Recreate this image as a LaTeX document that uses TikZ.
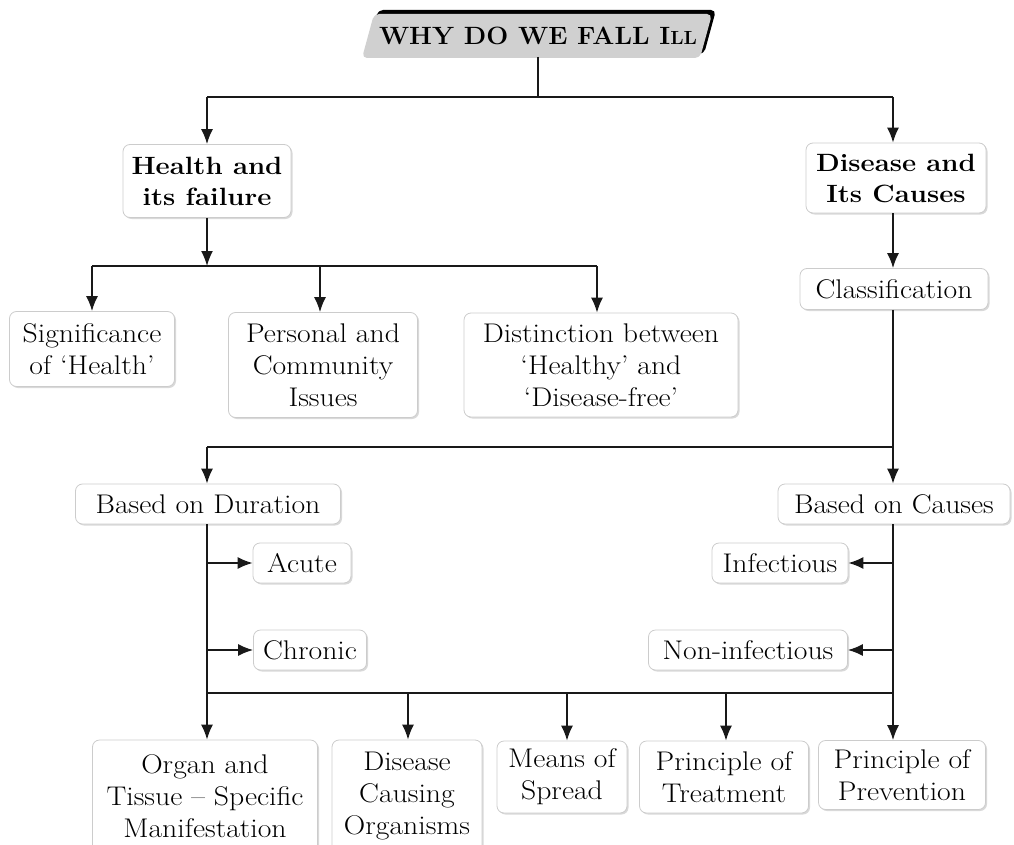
\documentclass[tikz,border=0pt]{standalone}
\usepackage{fontspec}
\setmainfont{Latin Modern Roman}[FakeStretch=1.1]
\newfontfamily\titlefont{Latin Modern Roman}[FakeStretch=1.04]
\usetikzlibrary{arrows.meta,shadows}
\definecolor{titlegray}{RGB}{208,208,208}
\tikzset{
  box/.style={draw=gray!40, line width=0.8pt, fill=white, rounded corners=7pt,
    align=center, inner sep=0pt, font=\fontsize{27}{32}\selectfont,
    drop shadow={opacity=0.3, shadow xshift=1.5pt, shadow yshift=-1.5pt}},
  bbox/.style={box, font=\fontsize{25}{31}\selectfont\bfseries},
  sz/.style 2 args={minimum width=#1pt, minimum height=#2pt},
  conn/.style={line width=1.5pt, black!90},
  arr/.style={conn, -{Latex[length=15pt,width=12pt]}}
}
\begin{document}
\begin{tikzpicture}[x=1pt,y=-1pt]
\useasboundingbox (0,0) rectangle (1014,845);
% title
\fill[black, rounded corners=5pt] (366,54) -- (378,10) -- (716,10) -- (704,54) -- cycle;
\fill[titlegray, rounded corners=5pt] (362,58) -- (374,14) -- (712,14) -- (700,58) -- cycle;
\node[font=\titlefont\fontsize{25}{28}\selectfont\bfseries, minimum height=43pt, inner sep=0pt] (title) at (538,36) {WHY DO WE FALL I{\fontsize{19}{20}\selectfont LL}};
% nodes
\node[bbox, sz={168}{73}] (health) at (207,181) {Health and\\its failure};
\node[bbox, sz={180}{70}] (disease) at (896,178) {Disease and\\Its Causes};
\node[box, sz={188}{41}] (classif) at (894,289) {Classification};
\node[box, sz={165}{75}] (signif) at (92,349) {Significance\\of ‘Health’};
\node[box, sz={189}{105}] (personal) at (323,365) {Personal and\\Community\\Issues};
\node[box, sz={274}{104}] (distinct) at (601,365) {Distinction between\\‘Healthy’ and\\‘Disease-free’};
\node[box, sz={265}{40}] (duration) at (208,504) {Based on Duration};
\node[box, sz={232}{40}] (causes) at (894,504) {Based on Causes};
\node[box, sz={98}{40}] (acute) at (302,563) {Acute};
\node[box, sz={113}{40}] (chronic) at (310,650) {Chronic};
\node[box, sz={136}{40}] (infect) at (780,563) {Infectious};
\node[box, sz={199}{40}] (noninf) at (748,650) {Non-infectious};
\node[box, sz={225}{112}] (organ) at (205,796) {Organ and\\Tissue -- Specific\\Manifestation};
\node[box, sz={150}{112}] (causing) at (407,796) {Disease\\Causing\\Organisms};
\node[box, sz={130}{72}] (means) at (562,777) {Means of\\Spread};
\node[box, sz={169}{72}] (treat) at (724,777) {Principle of\\Treatment};
\node[box, sz={167}{69}] (prevent) at (902,775) {Principle of\\Prevention};
% coordinates
\coordinate (t1) at (538,97);
\coordinate (t0) at (538,57);
\coordinate (hl) at (207,97);
\coordinate (hr) at (893,97);
\coordinate (h0) at (207,266);
\coordinate (h1) at (92,266);
\coordinate (h2) at (320,266);
\coordinate (h3) at (597,266);
\coordinate (c0) at (207,447);
\coordinate (c1) at (893,447);
\coordinate (d0) at (207,693);
\coordinate (d1) at (408,693);
\coordinate (d2) at (567,693);
\coordinate (d3) at (726,693);
\coordinate (d4) at (893,693);
\coordinate (ba) at (207,563);
\coordinate (bc) at (207,650);
\coordinate (bi) at (893,563);
\coordinate (bn) at (893,650);
% connectors
\draw[conn] (t0) -- (t1);
\draw[conn] (hl) -- (hr);
\draw[arr] (hl) -- (health.north);
\draw[arr] (hr) -- (hr |- disease.north);
\draw[arr] (health.south) -- (h0);
\draw[conn] (h1) -- (h3);
\draw[arr] (h1) -- (signif.north);
\draw[arr] (h2) -- (h2 |- personal.north);
\draw[arr] (h3) -- (h3 |- distinct.north);
\draw[arr] (disease.south -| hr) -- (hr |- classif.north);
\draw[conn] (classif.south -| c1) -- (c1) -- (c0);
\draw[arr] (c0) -- (c0 |- duration.north);
\draw[arr] (c1) -- (c1 |- causes.north);
\draw[arr] (duration.south -| d0) -- (d0 |- organ.north);
\draw[arr] (causes.south -| d4) -- (d4 |- prevent.north);
\draw[conn] (d0) -- (d4);
\draw[arr] (d1) -- (d1 |- causing.north);
\draw[arr] (d2) -- (d2 |- means.north);
\draw[arr] (d3) -- (d3 |- treat.north);
\draw[arr] (ba) -- (acute.west);
\draw[arr] (bc) -- (chronic.west);
\draw[arr] (bi) -- (infect.east);
\draw[arr] (bn) -- (noninf.east);
\end{tikzpicture}
\end{document}
